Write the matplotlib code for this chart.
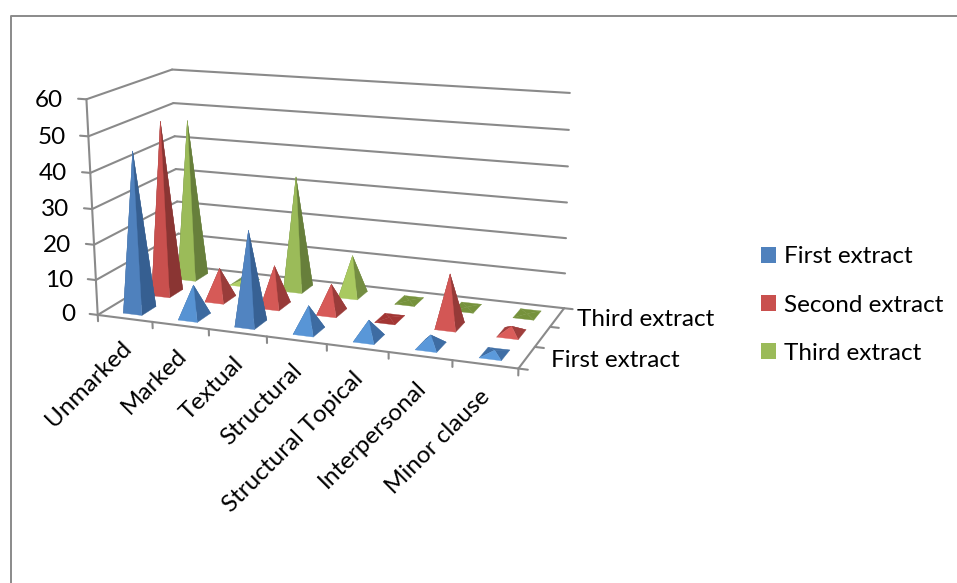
import numpy as np
import matplotlib
matplotlib.use("Agg")
import matplotlib.pyplot as plt
from matplotlib.lines import Line2D
from matplotlib.patches import Patch
from mpl_toolkits.mplot3d import art3d, proj3d

categories = ["Unmarked", "Marked", "Textual", "Structural", "Structural Topical", "Interpersonal", "Minor clause"]
series_names = ["First extract", "Second extract", "Third extract"]
first_extract = [45, 9, 26, 7, 5, 3, 1]
second_extract = [50, 9, 11.5, 8, 0.5, 14.5, 2]
third_extract = [47, 1, 33, 11.5, 0.2, 0.2, 0.2]
z_ticks = [0, 10, 20, 30, 40, 50, 60]

W, H = 957, 583
plt.rcParams['font.family'] = ['Lato', 'DejaVu Sans']
FS = 17.5
GREY = '#8A8A8A'

fig = plt.figure(figsize=(W / 100, H / 100), dpi=100, facecolor='white')
ax = fig.add_axes([0, 0, 1, 1], projection='3d', computed_zorder=False)
ax.apply_aspect = lambda position=None: None
ax.set_axis_off()
ax.patch.set_visible(False)
n_cat, n_ser, z_max = len(categories), len(series_names), z_ticks[-1]

# camera calibration: box corners -> image pixels
box = np.array([[0, 0, 0], [1, 0, 0], [1, 1, 0], [0, 1, 0],
                [0, 0, 1], [0, 1, 1], [1, 1, 1], [1, 0, 1]], float)
pix = np.array([[98, 315], [528, 369], [557, 307], [178, 266],
                [87, 98], [173, 70], [578, 93], [512, 130]], float)
pn = pix / [W, H]
A = []
for (a, b, c), (u, v) in zip(box, pn):
    A.append([a, b, c, 1, 0, 0, 0, 0, -u * a, -u * b, -u * c, -u])
    A.append([0, 0, 0, 0, a, b, c, 1, -v * a, -v * b, -v * c, -v])
P = np.linalg.svd(np.array(A))[2][-1].reshape(3, 4)
if P[2, 3] < 0:
    P = -P
# compose: data -> unit box -> normalized pixel -> 2D axes coordinates
Td = np.diag([1 / n_cat, 1 / n_ser, 1 / z_max, 1])
inv = ax.transData.inverted()
o = inv.transform([0, H])
ex = inv.transform([W, H]) - o
ey = inv.transform([0, 0]) - o
T2 = np.array([[ex[0], ey[0], o[0]], [ex[1], ey[1], o[1]], [0, 0, 1]])
P2 = T2 @ P @ Td
M = np.vstack([P2[0], P2[1], [0, 1, 0, 0], P2[2]])
ax.get_proj = lambda: M


def label(x, y, z, s, **kw):
    u, v, _ = proj3d.proj_transform(x, y, z, M)
    ax.text2D(float(u), float(v), s, transform=ax.transData, fontsize=FS, color='black', **kw)


zo = [1]
segments = []
for v in z_ticks:
    segments.append([(0, 0, v), (0, n_ser, v)])
    segments.append([(0, n_ser, v), (n_cat, n_ser, v)])
    segments.append([(-0.15, 0, v), (0, 0, v)])
segments.append([(0, 0, 0), (0, 0, z_max)])
segments.append([(0, 0, 0), (n_cat, 0, 0)])
segments.append([(n_cat, 0, 0), (n_cat, n_ser, 0)])
for c in range(n_cat + 1):
    segments.append([(c, 0, 0), (c, 0, -1.8)])
for s in range(n_ser + 1):
    segments.append([(n_cat, s, 0), (n_cat + 0.14, s, 0)])
ax.add_collection3d(art3d.Line3DCollection(segments, colors=GREY, linewidths=1.5, zorder=1, capstyle='round'),
                    autolim=False)

# tick labels
for v in z_ticks:
    label(-0.42, 0, v - 0.8, str(v), ha='right', va='center')
for c, name in enumerate(categories):
    label(c + 0.53, 0, -7.5, name, ha='right', va='center', rotation=45, rotation_mode='anchor')
label(n_cat + 0.32, 2.5, 0, series_names[2], ha='left', va='center')
label(n_cat + 0.37, 0.5, 0, series_names[0], ha='left', va='center')

# colours per series: tall front, short front, tall side, short side, flat
palette = [
    ('#4F81BD', '#5B9BDD', '#365F91', '#3F6EA6', '#376092'),
    ('#C9504E', '#DC5E5B', '#8A3533', '#A03F3D', '#A33634'),
    ('#9BBB59', '#B2D165', '#677F3B', '#7C9647', '#76923C'),
]


def mix(c1, c2, t):
    a, b = np.array(matplotlib.colors.to_rgb(c1)), np.array(matplotlib.colors.to_rgb(c2))
    return tuple(a + (b - a) * t)


HALF_X, HALF_Y = 0.17, 0.25
values = [first_extract, second_extract, third_extract]
for s in range(n_ser - 1, -1, -1):
    for c in range(n_cat):
        v = values[s][c]
        xc, yc = c + 0.5, s + 0.5
        fl = (xc - HALF_X, yc - HALF_Y, 0)
        fr = (xc + HALF_X, yc - HALF_Y, 0)
        br = (xc + HALF_X, yc + HALF_Y, 0)
        bl = (xc - HALF_X, yc + HALF_Y, 0)
        top = (xc, yc, v)
        t = min(v / 30, 1)
        front, short, side, sside, flat = palette[s]
        fc = mix(short, front, t)
        sc = mix(sside, side, t)
        if v < 0.6:
            fc = sc = flat
        faces = [([bl, br, top], sc), ([bl, fl, top], sc), ([fr, br, top], sc), ([fl, fr, top], fc)]
        for verts, col in faces:
            zo[0] += 1
            poly = art3d.Poly3DCollection([verts], facecolors=[col], edgecolors=[col],
                                          linewidths=0.25, zorder=zo[0])
            ax.add_collection3d(poly, autolim=False)

ax.set_xlim(0, n_cat)
ax.set_ylim(0, n_ser)
ax.set_zlim(0, z_max)

# chart frame
fig.add_artist(Line2D([10.5 / W, 10.5 / W, 1], [0, 1 - 15.5 / H, 1 - 15.5 / H], color=GREY, lw=1.4,
                      transform=fig.transFigure))

handles = [Patch(facecolor=p[0], edgecolor='none') for p in palette]
fig.legend(handles, series_names, loc='center left', bbox_to_anchor=(751.5 / W, 1 - 305 / H),
           frameon=False, fontsize=FS, handlelength=0.62, handleheight=0.62,
           handletextpad=0.3, labelspacing=1.12, borderpad=0, borderaxespad=0.4)

fig.savefig('out.png', dpi=100, facecolor='white')
